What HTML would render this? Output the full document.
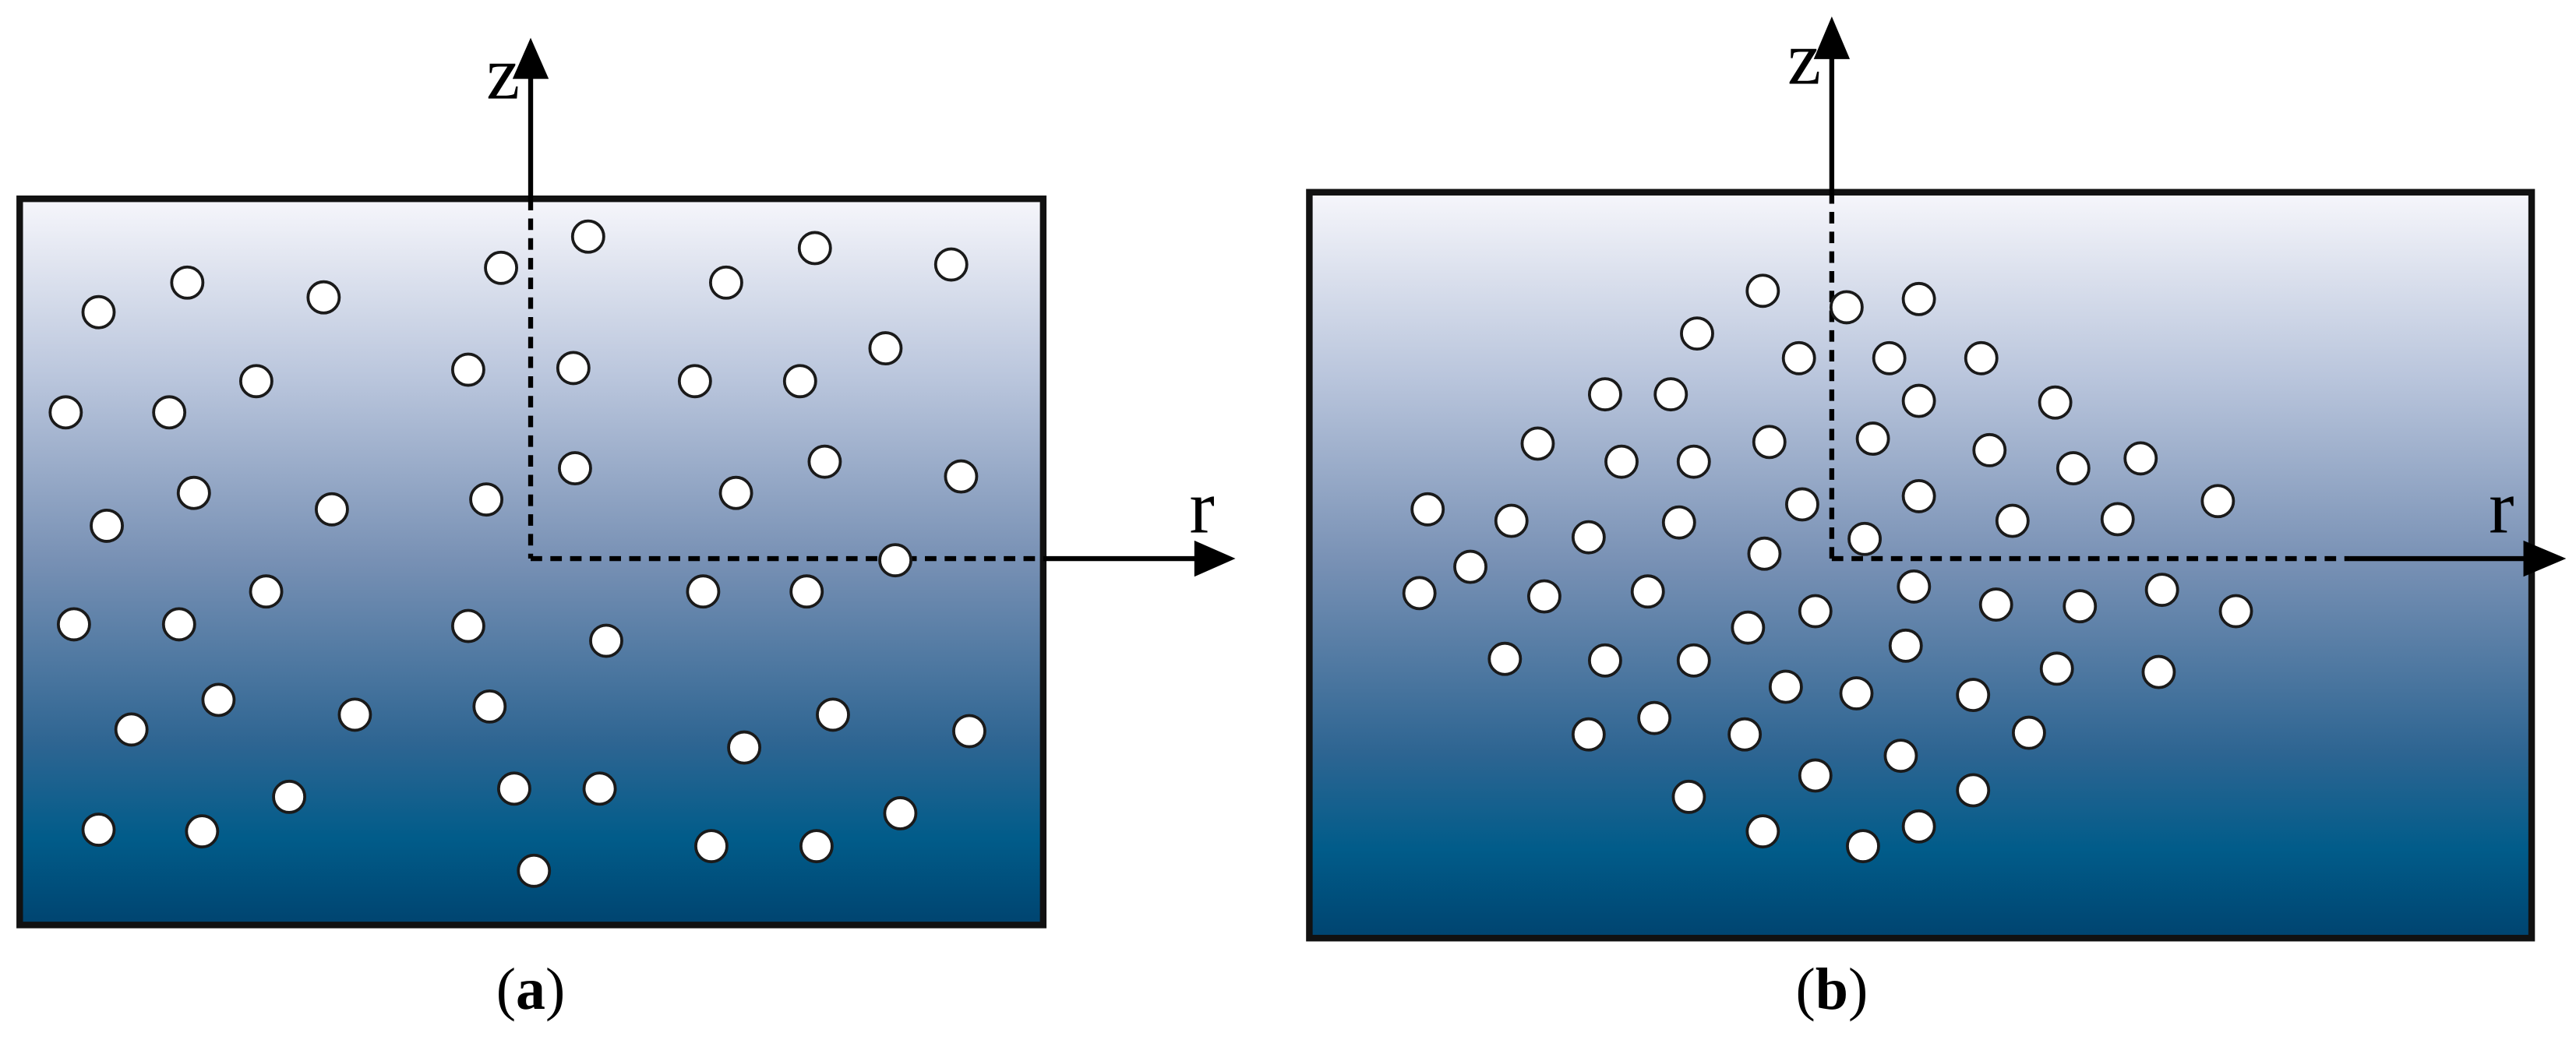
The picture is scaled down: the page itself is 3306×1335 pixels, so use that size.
<!DOCTYPE html>
<html><head><meta charset="utf-8"><style>html,body{margin:0;padding:0;background:#fff}svg{display:block}</style></head>
<body>
<svg width="3306" height="1335" viewBox="0 0 1568 633" preserveAspectRatio="none" xmlns="http://www.w3.org/2000/svg" font-family="Liberation Serif, serif">
<defs>
<linearGradient id="g" x1="0" y1="0" x2="0" y2="1">
<stop offset="0" stop-color="#f6f6fb"/>
<stop offset="0.25" stop-color="#b9c5dc"/>
<stop offset="0.5" stop-color="#7790b4"/>
<stop offset="0.75" stop-color="#2e6592"/>
<stop offset="0.88" stop-color="#015c8a"/>
<stop offset="1" stop-color="#004470"/>
</linearGradient>
</defs>
<rect x="12" y="121" width="623" height="442" fill="url(#g)" stroke="#111" stroke-width="4"/>
<rect x="797" y="117" width="744" height="454" fill="url(#g)" stroke="#111" stroke-width="4"/>
<g stroke="#000" stroke-width="3" fill="none">
<line x1="323" y1="121" x2="323" y2="45"/>
<line x1="323" y1="121" x2="323" y2="340" stroke-dasharray="7,5"/>
<line x1="323" y1="340" x2="635" y2="340" stroke-dasharray="7,5"/>
<line x1="635" y1="340" x2="735" y2="340"/>
<line x1="1115" y1="117" x2="1115" y2="32"/>
<line x1="1115" y1="117" x2="1115" y2="340" stroke-dasharray="7,5"/>
<line x1="1115" y1="340" x2="1430" y2="340" stroke-dasharray="7,5"/>
<line x1="1430" y1="340" x2="1540" y2="340"/>
</g>
<g fill="#000">
<polygon points="323,23 312,48 334,48"/>
<polygon points="752,340 727,329 727,351"/>
<polygon points="1115,10 1104,36 1126,36"/>
<polygon points="1562,340 1536,329 1536,351"/>
</g>
<g font-size="46" fill="#000">
<text x="296" y="60">z</text><text x="724" y="324">r</text>
<text x="1088" y="51">z</text><text x="1515" y="324">r</text>
</g>
<g font-size="36" fill="#000" text-anchor="middle">
<text x="323" y="614">(<tspan font-weight="bold">a</tspan>)</text>
<text x="1115" y="614">(<tspan font-weight="bold">b</tspan>)</text>
</g>
<g fill="#fff" stroke="#1a1a1a" stroke-width="1.8">
<g>
<circle cx="60" cy="190" r="9.5"/><circle cx="114" cy="172" r="9.5"/><circle cx="197" cy="181" r="9.5"/><circle cx="305" cy="163" r="9.5"/><circle cx="358" cy="144" r="9.5"/><circle cx="442" cy="172" r="9.5"/><circle cx="496" cy="151" r="9.5"/><circle cx="579" cy="161" r="9.5"/>
<circle cx="40" cy="251" r="9.5"/><circle cx="103" cy="251" r="9.5"/><circle cx="156" cy="232" r="9.5"/><circle cx="285" cy="225" r="9.5"/><circle cx="349" cy="224" r="9.5"/><circle cx="423" cy="232" r="9.5"/><circle cx="487" cy="232" r="9.5"/><circle cx="539" cy="212" r="9.5"/>
<circle cx="65" cy="320" r="9.5"/><circle cx="118" cy="300" r="9.5"/><circle cx="202" cy="310" r="9.5"/><circle cx="296" cy="304" r="9.5"/><circle cx="350" cy="285" r="9.5"/><circle cx="448" cy="300" r="9.5"/><circle cx="502" cy="281" r="9.5"/><circle cx="585" cy="290" r="9.5"/>
<circle cx="545" cy="341" r="9.5"/><circle cx="45" cy="380" r="9.5"/><circle cx="109" cy="380" r="9.5"/><circle cx="162" cy="360" r="9.5"/><circle cx="285" cy="381" r="9.5"/><circle cx="369" cy="390" r="9.5"/><circle cx="428" cy="360" r="9.5"/><circle cx="491" cy="360" r="9.5"/>
<circle cx="80" cy="444" r="9.5"/><circle cx="133" cy="426" r="9.5"/><circle cx="216" cy="435" r="9.5"/><circle cx="298" cy="430" r="9.5"/><circle cx="453" cy="455" r="9.5"/><circle cx="507" cy="435" r="9.5"/><circle cx="590" cy="445" r="9.5"/>
<circle cx="60" cy="505" r="9.5"/><circle cx="123" cy="506" r="9.5"/><circle cx="176" cy="485" r="9.5"/><circle cx="313" cy="480" r="9.5"/><circle cx="365" cy="480" r="9.5"/><circle cx="548" cy="495" r="9.5"/><circle cx="325" cy="530" r="9.5"/><circle cx="433" cy="515" r="9.5"/><circle cx="497" cy="515" r="9.5"/>
</g>
<g>
<circle cx="1073" cy="177" r="9.5"/><circle cx="1124" cy="187" r="9.5"/><circle cx="1168" cy="182" r="9.5"/><circle cx="1033" cy="203" r="9.5"/><circle cx="1095" cy="218" r="9.5"/><circle cx="1150" cy="218" r="9.5"/><circle cx="1206" cy="218" r="9.5"/><circle cx="977" cy="240" r="9.5"/><circle cx="1017" cy="240" r="9.5"/><circle cx="1168" cy="244" r="9.5"/><circle cx="1251" cy="245" r="9.5"/>
<circle cx="936" cy="270" r="9.5"/><circle cx="987" cy="281" r="9.5"/><circle cx="1031" cy="281" r="9.5"/><circle cx="1077" cy="269" r="9.5"/><circle cx="1140" cy="267" r="9.5"/><circle cx="1211" cy="274" r="9.5"/><circle cx="1262" cy="285" r="9.5"/><circle cx="1303" cy="279" r="9.5"/>
<circle cx="869" cy="310" r="9.5"/><circle cx="920" cy="317" r="9.5"/><circle cx="967" cy="327" r="9.5"/><circle cx="1022" cy="318" r="9.5"/><circle cx="1097" cy="307" r="9.5"/><circle cx="1168" cy="302" r="9.5"/><circle cx="1225" cy="317" r="9.5"/><circle cx="1289" cy="316" r="9.5"/><circle cx="1350" cy="305" r="9.5"/><circle cx="1135" cy="328" r="9.5"/><circle cx="1074" cy="337" r="9.5"/>
<circle cx="895" cy="345" r="9.5"/><circle cx="864" cy="361" r="9.5"/><circle cx="940" cy="363" r="9.5"/><circle cx="1003" cy="360" r="9.5"/><circle cx="1064" cy="382" r="9.5"/><circle cx="1105" cy="372" r="9.5"/><circle cx="1165" cy="357" r="9.5"/><circle cx="1215" cy="368" r="9.5"/><circle cx="1266" cy="369" r="9.5"/><circle cx="1316" cy="359" r="9.5"/><circle cx="1361" cy="372" r="9.5"/>
<circle cx="916" cy="401" r="9.5"/><circle cx="977" cy="402" r="9.5"/><circle cx="1031" cy="402" r="9.5"/><circle cx="1087" cy="418" r="9.5"/><circle cx="1130" cy="422" r="9.5"/><circle cx="1160" cy="393" r="9.5"/><circle cx="1201" cy="423" r="9.5"/><circle cx="1252" cy="407" r="9.5"/><circle cx="1314" cy="409" r="9.5"/>
<circle cx="967" cy="447" r="9.5"/><circle cx="1007" cy="437" r="9.5"/><circle cx="1062" cy="447" r="9.5"/><circle cx="1157" cy="460" r="9.5"/><circle cx="1105" cy="472" r="9.5"/><circle cx="1235" cy="446" r="9.5"/>
<circle cx="1028" cy="485" r="9.5"/><circle cx="1073" cy="506" r="9.5"/><circle cx="1134" cy="515" r="9.5"/><circle cx="1168" cy="503" r="9.5"/><circle cx="1201" cy="481" r="9.5"/>
</g>
</g>
</svg>
</body></html>
